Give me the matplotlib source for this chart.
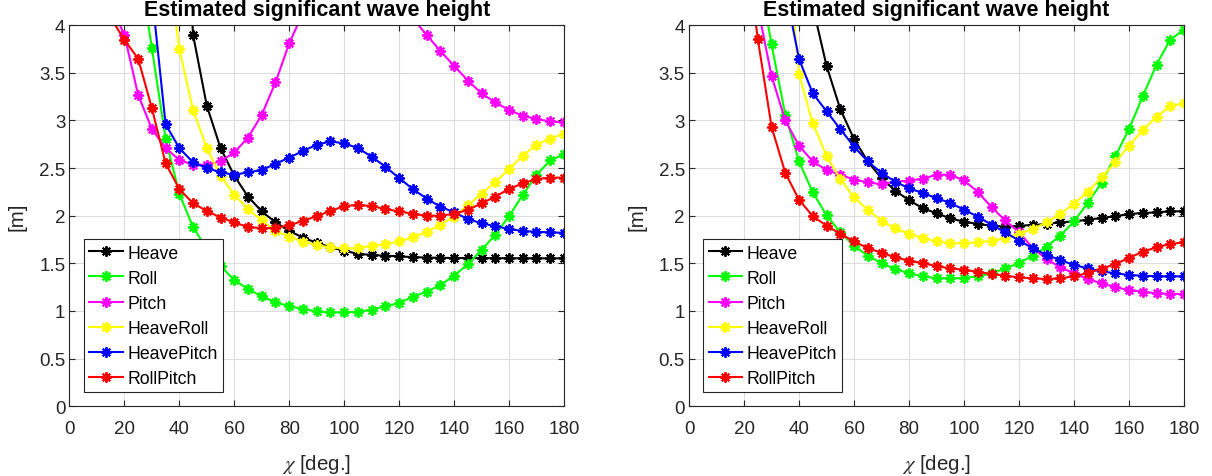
import matplotlib
matplotlib.use("Agg")
import matplotlib.pyplot as plt

plt.rcParams['font.family'] = ['Liberation Sans', 'DejaVu Sans']
plt.rcParams['mathtext.fontset'] = 'stix'

chi = [0, 5, 10, 15, 20, 25, 30, 35, 40, 45, 50, 55, 60, 65, 70, 75, 80, 85, 90,
       95, 100, 105, 110, 115, 120, 125, 130, 135, 140, 145, 150, 155, 160, 165,
       170, 175, 180]

series_names = ['Heave', 'Roll', 'Pitch', 'HeaveRoll', 'HeavePitch', 'RollPitch']
series_colors = ['#000000', '#00FF00', '#FF00FF', '#FFFF00', '#0000FF', '#FF0000']

# Left panel
heave_L = [60, 50, 42, 35, 28, 21, 15, 10, 6.4, 3.90, 3.155, 2.71, 2.42, 2.20, 2.046,
           1.93, 1.84, 1.77, 1.715, 1.668, 1.632, 1.60, 1.587, 1.58, 1.573, 1.565,
           1.56, 1.558, 1.556, 1.555, 1.554, 1.553, 1.553, 1.552, 1.552, 1.552, 1.552]
roll_L = [20, 15, 11, 8, 6, 4.71, 3.76, 2.81, 2.23, 1.88, 1.65, 1.47, 1.325, 1.23,
          1.153, 1.09, 1.048, 1.02, 0.995, 0.985, 0.985, 0.99, 1.013, 1.048, 1.083,
          1.15, 1.20, 1.27, 1.37, 1.49, 1.64, 1.80, 1.995, 2.215, 2.43, 2.58, 2.645]
pitch_L = [6.3, 5.4, 4.7, 4.21, 3.90, 3.27, 2.91, 2.71, 2.585, 2.535, 2.535, 2.57,
           2.665, 2.82, 3.06, 3.40, 3.81, 4.13, 4.45, 4.65, 4.75, 4.75, 4.6, 4.42,
           4.24, 4.07, 3.90, 3.73, 3.575, 3.42, 3.285, 3.19, 3.11, 3.05, 3.015, 2.99, 2.98]
heaveroll_L = [29, 23, 18, 14, 10.5, 8, 6.2, 4.82, 3.75, 3.11, 2.71, 2.42, 2.22, 2.07,
               1.95, 1.84, 1.78, 1.728, 1.69, 1.668, 1.658, 1.658, 1.685, 1.70, 1.73,
               1.773, 1.83, 1.905, 1.99, 2.108, 2.233, 2.35, 2.49, 2.63, 2.745, 2.81, 2.86]
heavepitch_L = [23, 18, 14, 11, 8, 6, 4.33, 2.96, 2.71, 2.56, 2.50, 2.455, 2.43, 2.455,
                2.48, 2.545, 2.61, 2.68, 2.745, 2.78, 2.76, 2.71, 2.62, 2.515, 2.395,
                2.28, 2.18, 2.095, 2.035, 1.965, 1.92, 1.89, 1.86, 1.84, 1.83, 1.825, 1.82]
rollpitch_L = [6, 5.2, 4.5, 4.08, 3.846, 3.65, 3.13, 2.55, 2.28, 2.13, 2.05, 1.98, 1.93,
               1.88, 1.87, 1.87, 1.90, 1.945, 1.995, 2.05, 2.10, 2.115, 2.10, 2.07,
               2.045, 2.02, 2.0, 2.0, 2.02, 2.06, 2.13, 2.20, 2.28, 2.34, 2.385, 2.40, 2.40]

# Right panel
heave_R = [40, 32, 25, 19, 14, 10.5, 8, 6.3, 5.2, 4.2, 3.575, 3.12, 2.805, 2.57, 2.393,
           2.263, 2.162, 2.079, 2.025, 1.972, 1.937, 1.913, 1.895, 1.885, 1.895, 1.902,
           1.913, 1.93, 1.94, 1.958, 1.976, 1.994, 2.018, 2.028, 2.035, 2.046, 2.046]
roll_R = [15, 12, 9.5, 7.3, 5.8, 4.63, 3.80, 3.06, 2.57, 2.245, 2.005, 1.825, 1.685,
          1.58, 1.50, 1.44, 1.395, 1.363, 1.343, 1.342, 1.345, 1.363, 1.395, 1.447,
          1.503, 1.58, 1.675, 1.79, 1.94, 2.135, 2.345, 2.624, 2.91, 3.254, 3.586, 3.85, 3.954]
pitch_R = [12, 10, 8, 6.5, 5.2, 4.19, 3.47, 3.0, 2.735, 2.57, 2.48, 2.43, 2.38, 2.35,
           2.33, 2.357, 2.368, 2.388, 2.43, 2.43, 2.37, 2.25, 2.09, 1.95, 1.826, 1.66,
           1.545, 1.458, 1.395, 1.335, 1.29, 1.248, 1.22, 1.20, 1.185, 1.178, 1.178]
heaveroll_R = [30, 24, 19, 15, 11.5, 8.8, 6.7, 4.99, 3.49, 2.97, 2.63, 2.385, 2.195,
               2.06, 1.948, 1.867, 1.81, 1.763, 1.73, 1.713, 1.713, 1.72, 1.737, 1.763,
               1.81, 1.86, 1.93, 2.018, 2.128, 2.25, 2.403, 2.56, 2.735, 2.90, 3.04, 3.15, 3.18]
heavepitch_R = [25, 19, 14, 10.5, 8, 6.5, 5.3, 4.38, 3.646, 3.285, 3.097, 2.91, 2.725,
                2.57, 2.45, 2.357, 2.288, 2.238, 2.185, 2.133, 2.063, 1.99, 1.905, 1.826,
                1.737, 1.66, 1.587, 1.535, 1.482, 1.447, 1.416, 1.395, 1.377, 1.37, 1.363,
                1.363, 1.363]
rollpitch_R = [14, 11, 8.5, 6.5, 4.95, 3.86, 2.935, 2.45, 2.168, 1.995, 1.895, 1.81, 1.73,
               1.66, 1.61, 1.563, 1.527, 1.503, 1.47, 1.447, 1.433, 1.41, 1.388, 1.37,
               1.352, 1.342, 1.335, 1.342, 1.363, 1.398, 1.44, 1.493, 1.556, 1.622, 1.668,
               1.703, 1.72]

x_ticks = [0, 20, 40, 60, 80, 100, 120, 140, 160, 180]
y_ticks = [0, 0.5, 1, 1.5, 2, 2.5, 3, 3.5, 4]
y_ticklabels = ['0', '0.5', '1', '1.5', '2', '2.5', '3', '3.5', '4']
title_text = 'Estimated significant wave height'
xlabel_text = r'$\chi$ [deg.]'
ylabel_text = '[m]'

panels = [
    [heave_L, roll_L, pitch_L, heaveroll_L, heavepitch_L, rollpitch_L],
    [heave_R, roll_R, pitch_R, heaveroll_R, heavepitch_R, rollpitch_R],
]

fig = plt.figure(figsize=(12.12, 4.77), dpi=100)
axes_rects = [[0.0573, 0.1465, 0.408, 0.7984], [0.5685, 0.1465, 0.4084, 0.7984]]
axcol = '#262626'

for rect, data in zip(axes_rects, panels):
    ax = fig.add_axes(rect)
    for name, col, vals in zip(series_names, series_colors, data):
        ax.plot(chi, vals, color=col, lw=1.5, marker=(8, 2, 0), markersize=7.5,
                markeredgewidth=1.4, label=name)
    ax.set_xlim(0, 180)
    ax.set_ylim(0, 4)
    ax.set_xticks(x_ticks)
    ax.set_yticks(y_ticks)
    ax.set_yticklabels(y_ticklabels)
    ax.grid(True, color='#dddddd', lw=0.8)
    ax.set_axisbelow(True)
    ax.tick_params(direction='in', length=4, width=0.8, top=True, right=True,
                   colors=axcol, labelsize=13.5)
    ax.tick_params(axis='x', pad=10)
    ax.tick_params(axis='y', pad=3)
    for s in ax.spines.values():
        s.set_color(axcol)
        s.set_linewidth(0.8)
    ax.set_title(title_text, fontsize=15.5, fontweight='bold', pad=7.4)
    ax.set_xlabel(xlabel_text, fontsize=14.8, color=axcol, labelpad=11)
    ax.set_ylabel(ylabel_text, fontsize=14.8, color=axcol, labelpad=9)
    leg = ax.legend(loc='lower left', bbox_to_anchor=(0.029, 0.036), borderaxespad=0,
                    fontsize=12.7, frameon=True, fancybox=False, framealpha=1,
                    edgecolor='#262626', handlelength=1.9, handletextpad=0.25,
                    labelspacing=0.46, borderpad=0.3, numpoints=1)
    leg.get_frame().set_linewidth(0.8)

fig.savefig('out.png', dpi=100)
